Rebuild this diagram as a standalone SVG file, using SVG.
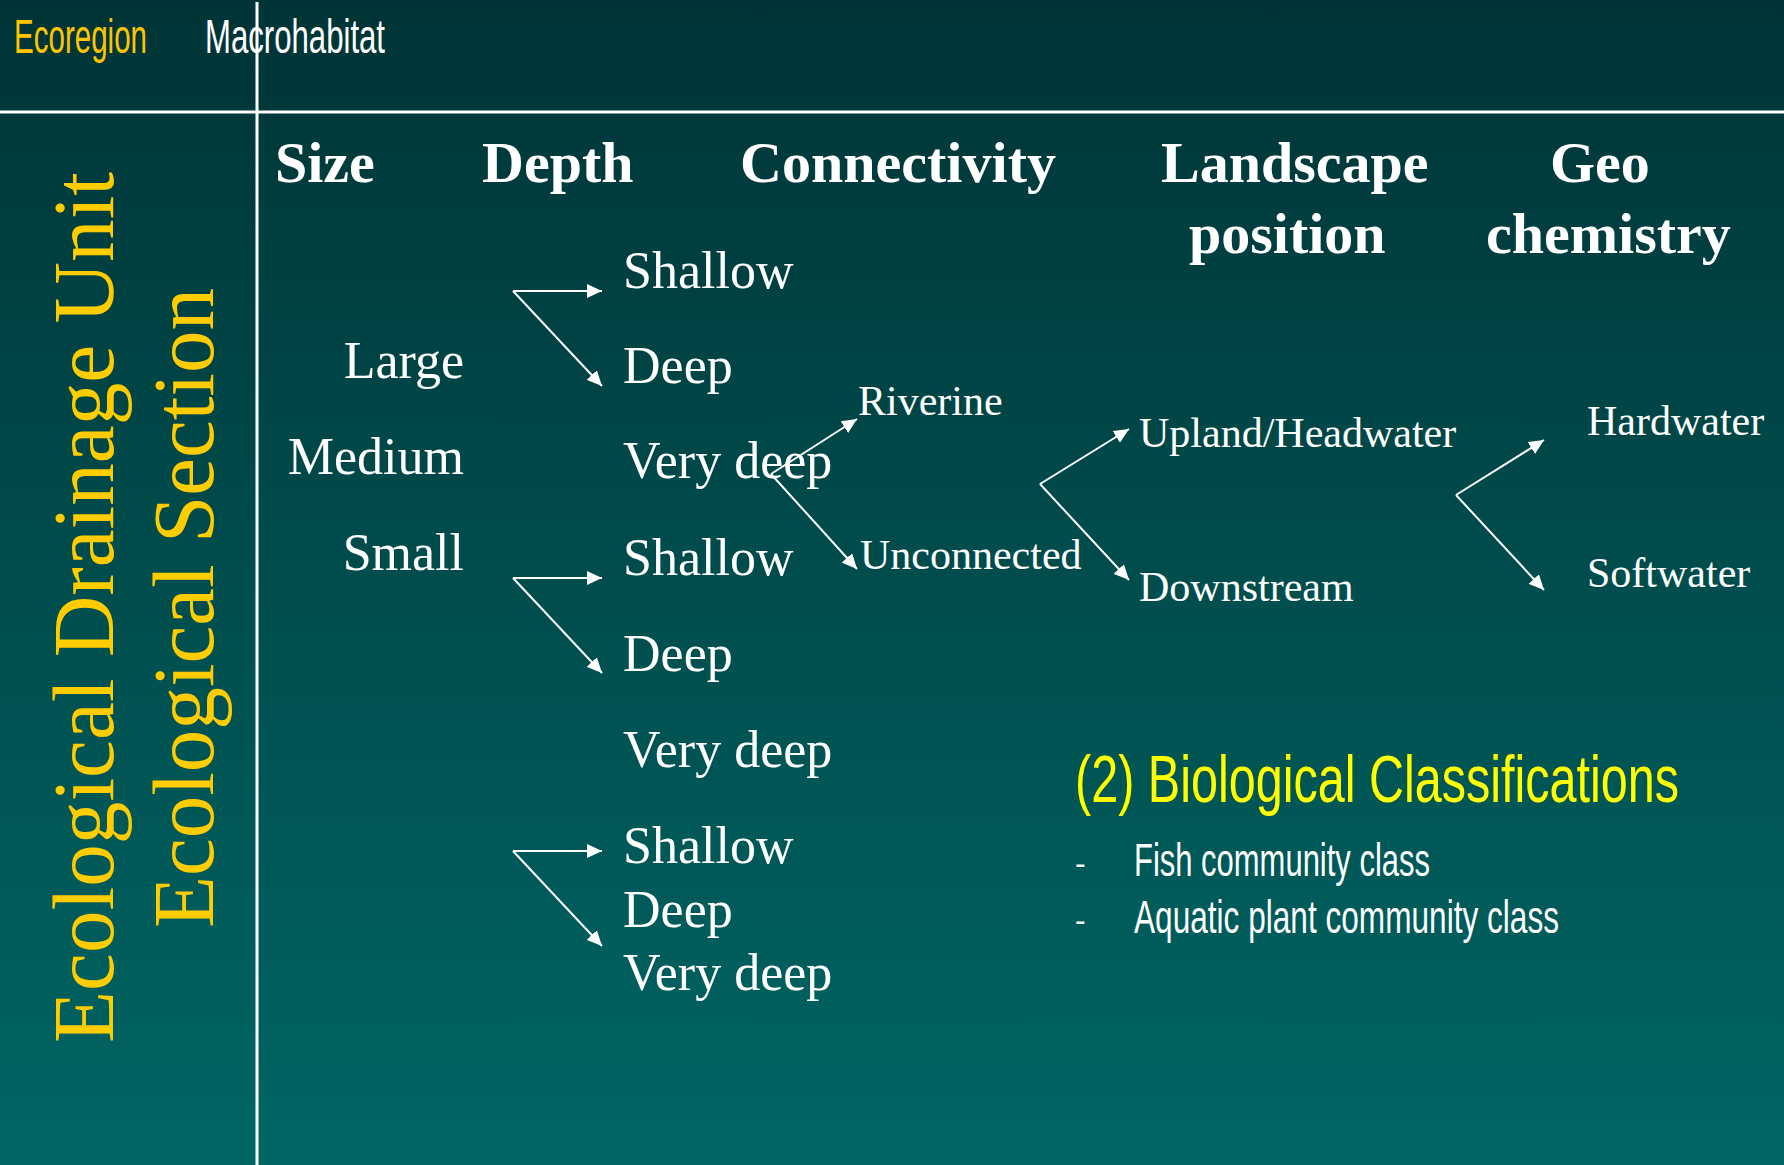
<svg xmlns="http://www.w3.org/2000/svg" width="1784" height="1165" viewBox="0 0 1784 1165">
<defs>
<linearGradient id="bg" x1="0" y1="0" x2="0" y2="1">
<stop offset="0" stop-color="#003436"/>
<stop offset="1" stop-color="#006664"/>
</linearGradient>
<marker id="ah" viewBox="0 0 15 14" refX="15" refY="7" markerWidth="15" markerHeight="14" markerUnits="userSpaceOnUse" orient="auto">
<path d="M0,0 L15,7 L0,14 z" fill="#ffffff"/>
</marker>
</defs>
<style>
.hd{font-family:"Liberation Serif","Times New Roman",serif;font-weight:bold;font-size:58px;fill:#ffffff}
.lg{font-family:"Liberation Serif","Times New Roman",serif;font-size:52px;fill:#ffffff}
.sm{font-family:"Liberation Serif","Times New Roman",serif;font-size:42px;fill:#ffffff}
.vt{font-family:"Liberation Serif","Times New Roman",serif;font-size:86px;fill:#ffcc00}
.cn{font-family:"Liberation Sans Narrow","Liberation Sans",Arial,sans-serif}
.ln{stroke:#ffffff;stroke-width:2;fill:none}
.ar{stroke:#ffffff;stroke-width:2;fill:none;marker-end:url(#ah)}
</style>
<rect x="0" y="0" width="1784" height="1165" fill="url(#bg)"/>
<g id="frame">
<line x1="0" y1="112" x2="1784" y2="112" stroke="#ffffff" stroke-width="3"/>
<line x1="257" y1="2" x2="257" y2="1165" stroke="#ffffff" stroke-width="3"/>
</g>
<g id="ecoregion"><text class="cn" x="14" y="53" font-size="49" fill="#ffc400" textLength="133" lengthAdjust="spacingAndGlyphs">Ecoregion</text></g>
<g id="macrohabitat"><text class="cn" x="205" y="53" font-size="49" fill="#ffffff" textLength="180" lengthAdjust="spacingAndGlyphs">Macrohabitat</text></g>
<g id="edu"><text class="vt" transform="translate(113,1043) rotate(-90)" x="0" y="0" textLength="871" lengthAdjust="spacingAndGlyphs">Ecological Drainage Unit</text></g>
<g id="es"><text class="vt" transform="translate(213,928) rotate(-90)" x="0" y="0" textLength="640" lengthAdjust="spacingAndGlyphs">Ecological Section</text></g>
<g id="headers">
<text class="hd" x="275" y="182">Size</text>
<text class="hd" x="482" y="182">Depth</text>
<text class="hd" x="740" y="182" textLength="316" lengthAdjust="spacingAndGlyphs">Connectivity</text>
<text class="hd" x="1161" y="182">Landscape</text>
<text class="hd" x="1189" y="253">position</text>
<text class="hd" x="1550" y="182">Geo</text>
<text class="hd" x="1486" y="253">chemistry</text>
</g>
<g id="size" text-anchor="end">
<text class="lg" x="464" y="378">Large</text>
<text class="lg" x="464" y="474">Medium</text>
<text class="lg" x="464" y="570">Small</text>
</g>
<g id="depth1">
<text class="lg" x="623" y="288">Shallow</text>
<text class="lg" x="623" y="383">Deep</text>
<text class="lg" x="623" y="478">Very deep</text>
</g>
<g id="depth2">
<text class="lg" x="623" y="575">Shallow</text>
<text class="lg" x="623" y="671">Deep</text>
<text class="lg" x="623" y="767">Very deep</text>
</g>
<g id="depth3">
<text class="lg" x="623" y="863">Shallow</text>
<text class="lg" x="623" y="927">Deep</text>
<text class="lg" x="623" y="990">Very deep</text>
</g>
<g id="connectivity">
<text class="sm" x="858" y="415">Riverine</text>
<text class="sm" x="860" y="569">Unconnected</text>
</g>
<g id="landscape">
<text class="sm" x="1139" y="447">Upland/Headwater</text>
<text class="sm" x="1139" y="601">Downstream</text>
</g>
<g id="geochemistry">
<text class="sm" x="1587" y="435">Hardwater</text>
<text class="sm" x="1587" y="587">Softwater</text>
</g>
<g id="biological">
<text class="cn" x="1075" y="802" font-size="67" fill="#ffff00" textLength="604" lengthAdjust="spacingAndGlyphs">(2) Biological Classifications</text>
<text class="cn" x="1075" y="874" font-size="32" fill="#ffffff">-</text>
<text class="cn" x="1134" y="876" font-size="47" fill="#ffffff" textLength="296" lengthAdjust="spacingAndGlyphs">Fish community class</text>
<text class="cn" x="1075" y="931" font-size="32" fill="#ffffff">-</text>
<text class="cn" x="1134" y="933" font-size="47" fill="#ffffff" textLength="425" lengthAdjust="spacingAndGlyphs">Aquatic plant community class</text>
</g>
<g id="connectors">
<line class="ar" x1="513" y1="291" x2="602" y2="291"/>
<line class="ar" x1="513" y1="291" x2="602" y2="386"/>
<line class="ar" x1="513" y1="578" x2="602" y2="578"/>
<line class="ar" x1="513" y1="578" x2="602" y2="673"/>
<line class="ar" x1="513" y1="851" x2="602" y2="851"/>
<line class="ar" x1="513" y1="851" x2="602" y2="946"/>
<line class="ar" x1="771" y1="474" x2="857" y2="419"/>
<line class="ar" x1="771" y1="474" x2="857" y2="569"/>
<line class="ar" x1="1040" y1="484" x2="1129" y2="429"/>
<line class="ar" x1="1040" y1="484" x2="1129" y2="580"/>
<line class="ar" x1="1456" y1="495" x2="1544" y2="440"/>
<line class="ar" x1="1456" y1="495" x2="1544" y2="590"/>
</g>
</svg>
